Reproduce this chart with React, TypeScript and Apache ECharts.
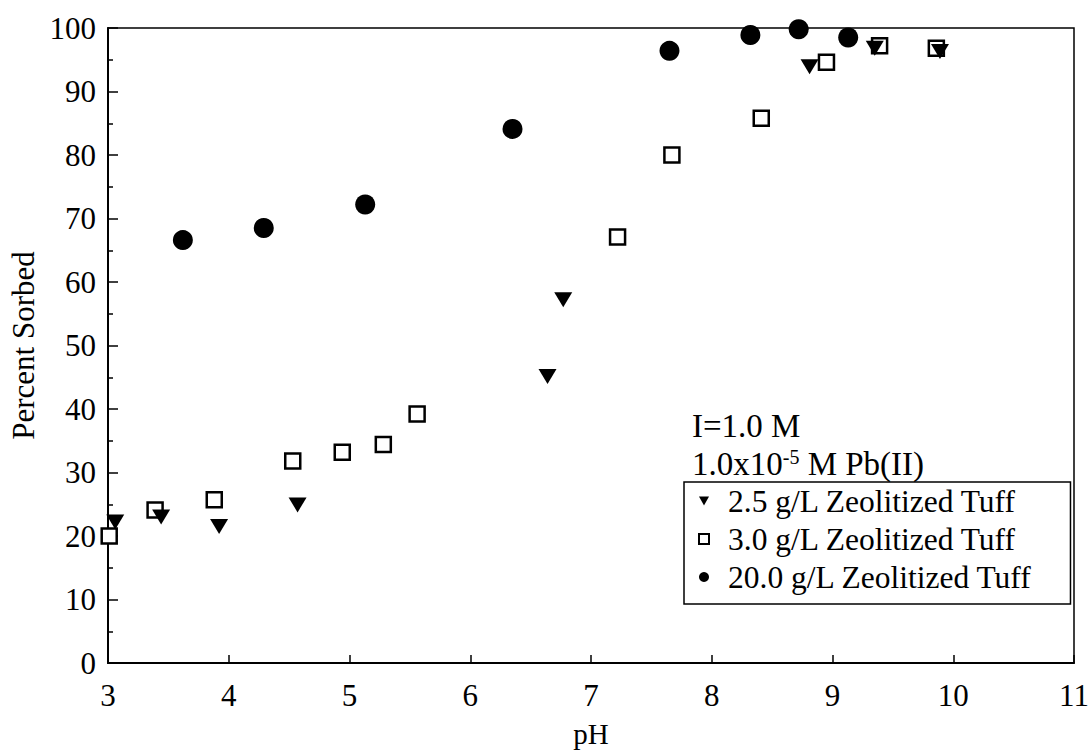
import React, { useEffect, useRef } from "react";
import * as echarts from "echarts";

// pH values and percent sorbed, per sorbent concentration
const ph25 = [3.06, 3.44, 3.92, 4.57, 6.64, 6.77, 8.81, 9.35, 9.89];
const pct25 = [22.2, 23.0, 21.5, 24.9, 45.1, 57.2, 93.9, 96.8, 96.3];

const ph30 = [3.01, 3.39, 3.88, 4.53, 4.94, 5.28, 5.56, 7.22, 7.67, 8.41, 8.95, 9.39, 9.86];
const pct30 = [20.0, 24.1, 25.7, 31.8, 33.2, 34.4, 39.2, 67.1, 80.0, 85.8, 94.6, 97.2, 96.8];

const ph200 = [3.62, 4.29, 5.13, 6.35, 7.65, 8.32, 8.72, 9.13];
const pct200 = [66.6, 68.5, 72.2, 84.1, 96.4, 98.9, 99.8, 98.5];

const seriesNames = [
  "2.5 g/L Zeolitized Tuff",
  "3.0 g/L Zeolitized Tuff",
  "20.0 g/L Zeolitized Tuff",
];

const xTitle = "pH";
const yTitle = "Percent Sorbed";
const noteLine1 = "I=1.0 M";
const noteLine2 = "1.0x10{s|-5} M Pb(II)";

const FONT = "Liberation Serif";

const zip = (xs: number[], ys: number[]) => xs.map((x, i) => [x, ys[i]]);

export default function App() {
  const ref = useRef<HTMLDivElement>(null);
  useEffect(() => {
    document.body.style.margin = "0";
    const chart = echarts.init(ref.current!, null, { renderer: "svg" });
    const option = {
      animation: false,
      backgroundColor: "#fff",
      grid: {
        left: 108,
        right: 17,
        top: 28,
        bottom: 87,
        outerBoundsMode: "none",
        containLabel: false,
        show: true,
        borderColor: "#000",
        borderWidth: 1.5,
        backgroundColor: "transparent",
      },
      xAxis: {
        type: "value",
        min: 3,
        max: 11,
        interval: 1,
        name: xTitle,
        nameLocation: "middle",
        nameGap: 56,
        nameTextStyle: { fontFamily: FONT, fontSize: 29, color: "#000" },
        axisLine: { show: true, lineStyle: { color: "#000", width: 2 } },
        axisTick: { show: true, inside: true, length: 8, lineStyle: { color: "#000", width: 1.5 } },
        axisLabel: { fontFamily: FONT, fontSize: 31, color: "#000", margin: 17 },
        splitLine: { show: false },
      },
      yAxis: {
        type: "value",
        min: 0,
        max: 100,
        interval: 10,
        name: yTitle,
        nameLocation: "middle",
        nameGap: 69,
        nameTextStyle: { fontFamily: FONT, fontSize: 31, color: "#000" },
        axisLine: { show: true, lineStyle: { color: "#000", width: 2 } },
        axisTick: { show: true, inside: true, length: 10, lineStyle: { color: "#000", width: 1.5 } },
        minorTick: { show: true, splitNumber: 2, length: 5, lineStyle: { color: "#000", width: 1.5 } },
        axisLabel: { fontFamily: FONT, fontSize: 31, color: "#000", margin: 12 },
        splitLine: { show: false },
      },
      legend: {
        orient: "vertical",
        left: 684,
        top: 482,
        itemWidth: 10,
        itemHeight: 10,
        itemGap: 6,
        padding: [3, 38, 11, 14],
        borderColor: "#000",
        borderWidth: 1.5,
        backgroundColor: "#fff",
        textStyle: { fontFamily: FONT, fontSize: 31.5, color: "#000", padding: [0, 0, 0, 14] },
        data: [
          { name: seriesNames[0], icon: "path://M0,0 L10,0 L5,9 Z" },
          { name: seriesNames[1], icon: "rect" },
          { name: seriesNames[2], icon: "circle" },
        ],
      },
      graphic: [
        {
          type: "text",
          left: 692,
          top: 409,
          style: { text: noteLine1, font: `33px ${FONT}`, fill: "#000" },
        },
        {
          type: "text",
          left: 692,
          top: 447,
          style: {
            text: noteLine2,
            font: `33px ${FONT}`,
            fill: "#000",
            rich: {
              s: { fontSize: 20, fontFamily: FONT, verticalAlign: "top", fill: "#000" },
            },
          },
        },
      ],
      series: [
        {
          name: seriesNames[2],
          type: "scatter",
          z: 2,
          symbol: "circle",
          symbolSize: 20,
          itemStyle: { color: "#000", opacity: 1 },
          data: zip(ph200, pct200),
        },
        {
          name: seriesNames[1],
          type: "scatter",
          z: 3,
          symbol: "rect",
          symbolSize: 15,
          itemStyle: { color: "#fff", borderColor: "#000", borderWidth: 2.5, opacity: 1 },
          data: zip(ph30, pct30),
        },
        {
          name: seriesNames[0],
          type: "scatter",
          z: 4,
          symbol: "triangle",
          symbolRotate: 180,
          symbolSize: [18, 15],
          itemStyle: { color: "#000", opacity: 1 },
          data: zip(ph25, pct25),
        },
      ],
    };
    chart.setOption(option);
    return () => chart.dispose();
  }, []);
  return <div ref={ref} style={{ width: 1091, height: 750 }} />;
}
